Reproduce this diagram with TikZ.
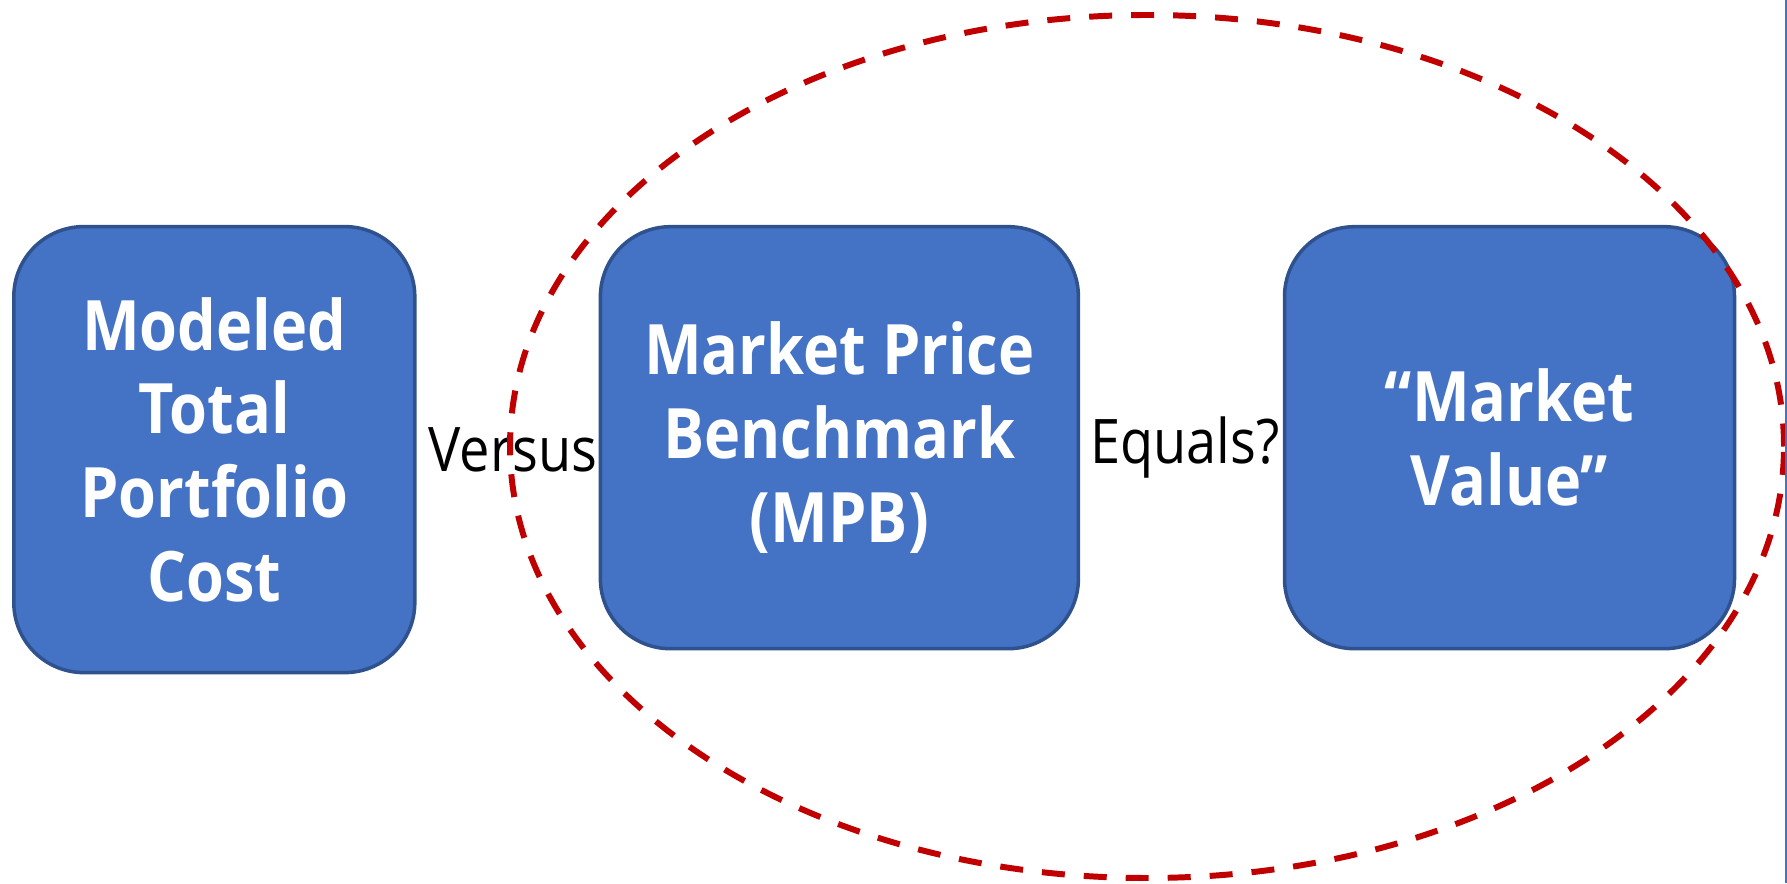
\documentclass[tikz,border=0pt]{standalone}
\usepackage{fontspec}
\setmainfont{Open Sans}[FakeStretch=0.88]
\usetikzlibrary{shapes}
\usetikzlibrary{positioning}
\definecolor{boxfill}{HTML}{4472C4}
\definecolor{boxline}{HTML}{2F528F}
\definecolor{ringred}{HTML}{C00000}

\begin{document}
\begin{tikzpicture}[price_box/.style={rectangle,rounded corners=0.7cm,fill=boxfill,draw=boxline,line width=1pt,text=white,align=center,font=\fontsize{19.8}{23.8}\selectfont\bfseries,inner sep=0pt}, link_text/.style={font=\fontsize{17.5}{21}\selectfont,inner sep=0pt}]

	\useasboundingbox (0,0) rectangle (17.87,8.83);

	\node[price_box,minimum width=4.01cm,minimum height=4.46cm] (cost) at (2.143, 4.334) {Modeled\\Total\\Portfolio\\Cost};
	\node[price_box,minimum width=4.78cm,minimum height=4.22cm] (mpb) at (8.394, 4.453) {Market Price\\Benchmark\\(MPB)};
	\node[price_box,minimum width=4.50cm,minimum height=4.22cm] (mv) at (15.095, 4.453) {“Market\\Value”};

	\node[link_text] (versus) at (5.13, 4.33) {Versus};
	\node[link_text] (equals) at (11.85, 4.35) {Equals?};

	\draw[ringred,line width=1.7pt,dash pattern=on 0.23cm off 0.19cm] (11.47, 4.365) ellipse (6.37 and 4.315);
	\draw[boxfill,line width=0.4pt] (17.86,0) -- (17.86,8.83);
\end{tikzpicture}
\end{document}
